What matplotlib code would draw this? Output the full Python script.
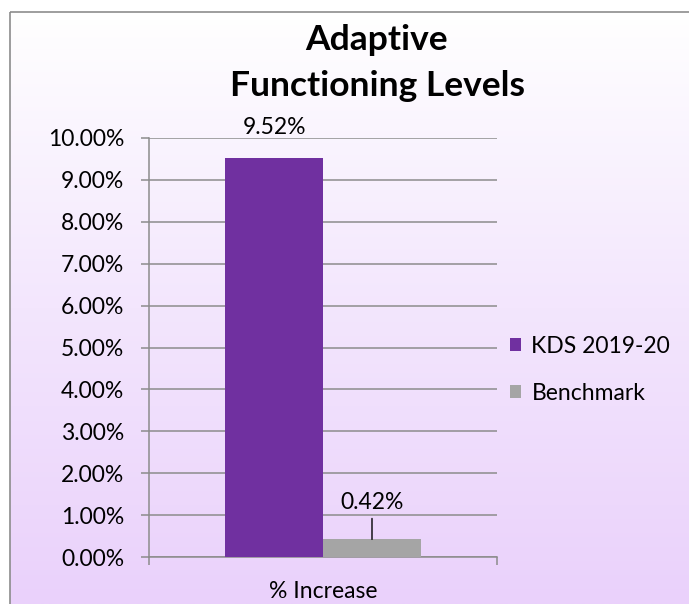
import numpy as np
import matplotlib.pyplot as plt
from matplotlib.colors import LinearSegmentedColormap
from matplotlib.patches import Rectangle

categories = ["% Increase"]
series_names = ["KDS 2019-20", "Benchmark"]
series_values = [9.52, 0.42]
series_colors = ["#7030A0", "#A5A5A5"]
yticks = [0, 1, 2, 3, 4, 5, 6, 7, 8, 9, 10]

plt.rcParams['font.family'] = ['Lato', 'DejaVu Sans']
FS = 16.5

fig = plt.figure(figsize=(6.89, 6.04), dpi=100)

# background: gradient from white to light lavender inside a grey frame
bg = fig.add_axes([0, 0, 1, 1], zorder=-10)
bg.set_xlim(0, 689)
bg.set_ylim(604, 0)
bg.axis('off')
cmap = LinearSegmentedColormap.from_list('lav', ['#FFFFFF', '#F3E6FD', '#EAD1FB'])
grad = np.linspace(0, 1, 256).reshape(-1, 1)
bg.imshow(grad, cmap=cmap, extent=[10, 689, 604, 12], aspect='auto')
bg.add_patch(Rectangle((10, 12), 690, 600, fill=False, edgecolor='#8C8C8C', lw=1.2))

ax = fig.add_axes([149 / 689, 1 - 557 / 604, 348 / 689, 419 / 604])
ax.patch.set_alpha(0)

width = 0.2816
offsets = [-width / 2, width / 2]
for i, (name, val, col) in enumerate(zip(series_names, series_values, series_colors)):
    ax.bar(0 + offsets[i], val, width=width, color=col, label=name, zorder=3)

ax.set_xlim(-0.5, 0.5)
ax.set_ylim(0, 10)
ax.set_yticks(yticks)
ax.set_yticklabels([f"{v:.2f}%" for v in yticks], fontsize=FS)
ax.yaxis.grid(True, color='#8C8C8C', lw=1.1, zorder=0)
ax.set_axisbelow(True)

ax.set_xticks([0])
ax.set_xticklabels(categories, fontsize=FS)
ax.set_xticks([-0.5, 0.5], minor=True)
ax.tick_params(axis='x', which='major', length=0, pad=17)
ax.tick_params(axis='x', which='minor', length=6, width=1.1, color='#8C8C8C')
ax.tick_params(axis='y', length=6, width=1.1, color='#8C8C8C', pad=12)

for s in ['top', 'right']:
    ax.spines[s].set_visible(False)
for s in ['left', 'bottom']:
    ax.spines[s].set_color('#8C8C8C')
    ax.spines[s].set_linewidth(1.1)

# value labels
ax.annotate(f"{series_values[0]:.2f}%", (offsets[0], series_values[0]),
            xytext=(0, 31), textcoords='offset pixels', ha='center', va='center', fontsize=FS)
ax.annotate(f"{series_values[1]:.2f}%", (offsets[1], series_values[1]),
            xytext=(0, 37), textcoords='offset pixels', ha='center', va='center', fontsize=FS,
            arrowprops=dict(arrowstyle='-', color='black', lw=1, shrinkA=2, shrinkB=0,
                            relpos=(0.5, 0)))

ax.legend(loc='center left', bbox_to_anchor=(1.0, 0.447), frameon=False, fontsize=FS,
          handlelength=0.5, handleheight=0.5, handletextpad=0.45, labelspacing=1.12,
          borderaxespad=0.15)

fig.text(377 / 689, 1 - 63 / 604, "Adaptive\nFunctioning Levels", ha='center', va='center',
         fontsize=25.5, fontweight='bold', linespacing=1.5)

fig.savefig('out.png', dpi=100)
